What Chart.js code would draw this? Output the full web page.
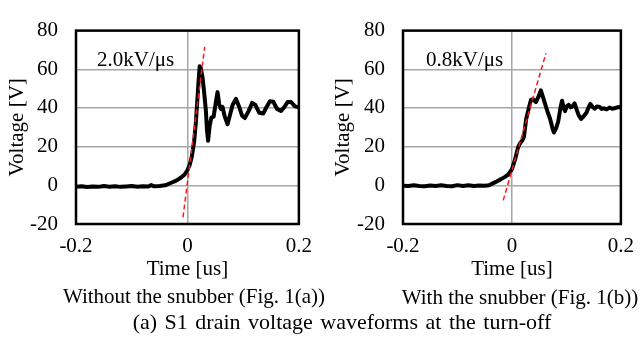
<!DOCTYPE html>
<html>
<head>
<meta charset="utf-8">
<script src="https://cdn.jsdelivr.net/npm/chart.js@4"></script>
<style>
  body { margin: 0; background: #fff; }
  #wrap { position: relative; width: 644px; height: 345px; overflow: hidden; background: #fff; }
  canvas { position: absolute; top: 0; }
  .cap {
    position: absolute;
    font-family: "Liberation Serif", "Times New Roman", serif;
    font-size: 21px;
    line-height: 21px;
    color: #000;
    white-space: nowrap;
    text-align: center;
  }
</style>
</head>
<body>
<div id="wrap">
  <canvas id="chartA" width="322" height="285" style="left:0"></canvas>
  <canvas id="chartB" width="318" height="285" style="left:326px"></canvas>
  <div class="cap" style="left:44px; top:286px; width:300px">Without the snubber (Fig. 1(a))</div>
  <div class="cap" style="left:370px; top:287px; width:300px">With the snubber (Fig. 1(b))</div>
  <div class="cap" style="left:92px; top:311px; width:500px; font-size:22px; word-spacing:2px">(a) S1 drain voltage waveforms at the turn-off</div>
</div>
<script>
// Fig. 1(a): without snubber
const timeA = [-0.200, -0.190, -0.180, -0.170, -0.160, -0.150, -0.140, -0.130, -0.120, -0.110,
  -0.100, -0.090, -0.080, -0.070, -0.065, -0.060, -0.050, -0.040, -0.030, -0.020,
  -0.012, -0.005, 0.000, 0.004, 0.008, 0.012, 0.015, 0.018, 0.020, 0.022,
  0.024, 0.027, 0.030, 0.033, 0.035, 0.037, 0.040, 0.043, 0.047, 0.051,
  0.054, 0.057, 0.060, 0.063, 0.067, 0.072, 0.076, 0.081, 0.087, 0.093,
  0.098, 0.103, 0.110, 0.116, 0.122, 0.129, 0.136, 0.142, 0.148, 0.154,
  0.161, 0.168, 0.174, 0.180, 0.186, 0.193, 0.200];
const voltA = [-0.8, -0.5, -0.9, -0.6, -0.8, -0.4, -0.7, -0.5, -0.8, -0.6,
  -0.4, -0.7, -0.5, -0.6, 0.1, -0.5, -0.3, 0.0, 1.2, 2.4,
  3.9, 5.6, 7.8, 10.5, 15.0, 22.5, 32, 45, 54, 61.6,
  60.5, 56, 48, 39, 29, 23, 31, 35, 35.5, 43,
  48.2, 42, 39.5, 40.5, 35.5, 31.6, 36, 41.5, 44.7, 40.5,
  36, 34.8, 38.5, 42.6, 41.5, 37.5, 37.1, 40.5, 43.5, 43.2,
  39.5, 38.4, 40.5, 43.1, 43.1, 40.8, 40.3];
const slopeTimeA = [-0.008, 0.031];
const slopeVoltA = [-16.6, 71.6];

// Fig. 1(b): with snubber
const timeB = [-0.200, -0.190, -0.180, -0.170, -0.160, -0.150, -0.140, -0.130, -0.120, -0.110,
  -0.100, -0.090, -0.080, -0.070, -0.060, -0.050, -0.042, -0.035, -0.028, -0.020,
  -0.012, -0.006, 0.000, 0.006, 0.011, 0.015, 0.019, 0.022, 0.026, 0.031,
  0.035, 0.039, 0.044, 0.049, 0.053, 0.057, 0.061, 0.066, 0.070, 0.074,
  0.077, 0.081, 0.085, 0.089, 0.092, 0.095, 0.0975, 0.101, 0.104, 0.108,
  0.111, 0.115, 0.119, 0.123, 0.127, 0.131, 0.137, 0.141, 0.144, 0.148,
  0.152, 0.156, 0.161, 0.165, 0.169, 0.174, 0.179, 0.184, 0.190, 0.195, 0.200];
const voltB = [-0.2, -0.4, 0.0, -0.3, -0.5, -0.1, -0.4, 0.0, -0.3, -0.5,
  0.1, -0.3, 0.0, -0.3, -0.1, -0.2, 0.0, 1.0, 2.0, 3.2,
  4.5, 5.8, 8.4, 13.5, 19.5, 21.8, 23.2, 25, 34, 40,
  44.3, 44.5, 43, 46, 49.1, 45.6, 42, 37.5, 34.4, 30,
  27.3, 29.5, 33, 40, 43.7, 40, 38.4, 41, 41.6, 40.3,
  40.8, 42.4, 39, 36, 34.3, 35.5, 37.7, 40.5, 42.1, 40.5,
  39.6, 40.8, 40.5, 39.5, 39.8, 39.3, 40.2, 39.6, 40.0, 40.4, 40.5];
const slopeTimeB = [-0.016, 0.0625];
const slopeVoltB = [-7.8, 68.3];

const xTickLabels = ["-0.2", "0", "0.2"];
const xTickValues = [-0.2, 0, 0.2];

const FONT = "'Liberation Serif', 'Times New Roman', serif";

const toPoints = (xs, ys) => xs.map((x, i) => ({ x: x, y: ys[i] }));

// black frame round the plot area
const framePlugin = {
  id: "frame",
  beforeDatasetsDraw(chart) {
    const a = chart.chartArea;
    const ctx = chart.ctx;
    ctx.save();
    ctx.strokeStyle = "#000";
    ctx.lineWidth = 2.5;
    ctx.strokeRect(a.left, a.top, a.right - a.left, a.bottom - a.top);
    ctx.restore();
  }
};

// slope label inside the plot
const slopeLabel = {
  id: "slopeLabel",
  afterDraw(chart, args, opts) {
    const a = chart.chartArea;
    const ctx = chart.ctx;
    ctx.save();
    ctx.font = "21px " + FONT;
    ctx.fillStyle = "#000";
    ctx.textBaseline = "alphabetic";
    ctx.fillText(opts.text, a.left + opts.dx, a.top + opts.dy);
    ctx.restore();
  }
};

function makeChart(id, time, volt, sTime, sVolt, cfg) {
  const ctx = document.getElementById(id).getContext("2d");
  return new Chart(ctx, {
    type: "line",
    data: {
      datasets: [
        {
          data: toPoints(sTime, sVolt),
          borderColor: "#ff1a1a",
          borderWidth: 1.5,
          borderDash: [5, 3],
          pointRadius: 0,
          tension: 0
        },
        {
          data: toPoints(time, volt),
          borderColor: "#000",
          borderWidth: 4,
          borderJoinStyle: "round",
          borderCapStyle: "round",
          pointRadius: 0,
          tension: 0
        }
      ]
    },
    options: {
      responsive: false,
      animation: false,
      devicePixelRatio: 1,
      layout: { padding: { left: 0, right: cfg.padRight, top: cfg.padTop, bottom: 0 } },
      plugins: {
        legend: { display: false },
        tooltip: { enabled: false },
        slopeLabel: { text: cfg.label, dx: cfg.labelDx, dy: cfg.labelDy }
      },
      scales: {
        x: {
          type: "linear",
          min: -0.2,
          max: 0.2,
          afterFit: s => { s.height = 285 - cfg.bottom; },
          afterBuildTicks: s => { s.ticks = xTickValues.map(v => ({ value: v })); },
          ticks: {
            padding: 10,
            color: "#000",
            font: { family: FONT, size: 21 },
            maxRotation: 0,
            callback: (v, i) => xTickLabels[i]
          },
          grid: { color: "#a6a6a6", lineWidth: 1.5, drawTicks: false },
          border: { display: false },
          title: {
            display: true,
            text: "Time [us]",
            color: "#000",
            font: { family: FONT, size: 21 },
            padding: { top: 0, bottom: 3 }
          }
        },
        y: {
          min: -20,
          max: 80,
          afterFit: s => { s.width = cfg.yWidth; },
          ticks: {
            stepSize: 20,
            padding: 18,
            color: "#000",
            font: { family: FONT, size: 21 }
          },
          grid: { color: "#a6a6a6", lineWidth: 1.5, drawTicks: false },
          border: { display: false },
          title: {
            display: true,
            text: "Voltage [V]",
            color: "#000",
            font: { family: FONT, size: 21 },
            padding: { top: 5, bottom: 0 }
          }
        }
      }
    },
    plugins: [framePlugin, slopeLabel]
  });
}

makeChart("chartA", timeA, voltA, slopeTimeA, slopeVoltA,
  { padRight: 18, padTop: 13, bottom: 224, yWidth: 76, label: "2.0kV/\u03bcs", labelDx: 21, labelDy: 35 });
makeChart("chartB", timeB, voltB, slopeTimeB, slopeVoltB,
  { padRight: 13, padTop: 15, bottom: 224, yWidth: 77, label: "0.8kV/\u03bcs", labelDx: 23, labelDy: 35 });
</script>
</body>
</html>
